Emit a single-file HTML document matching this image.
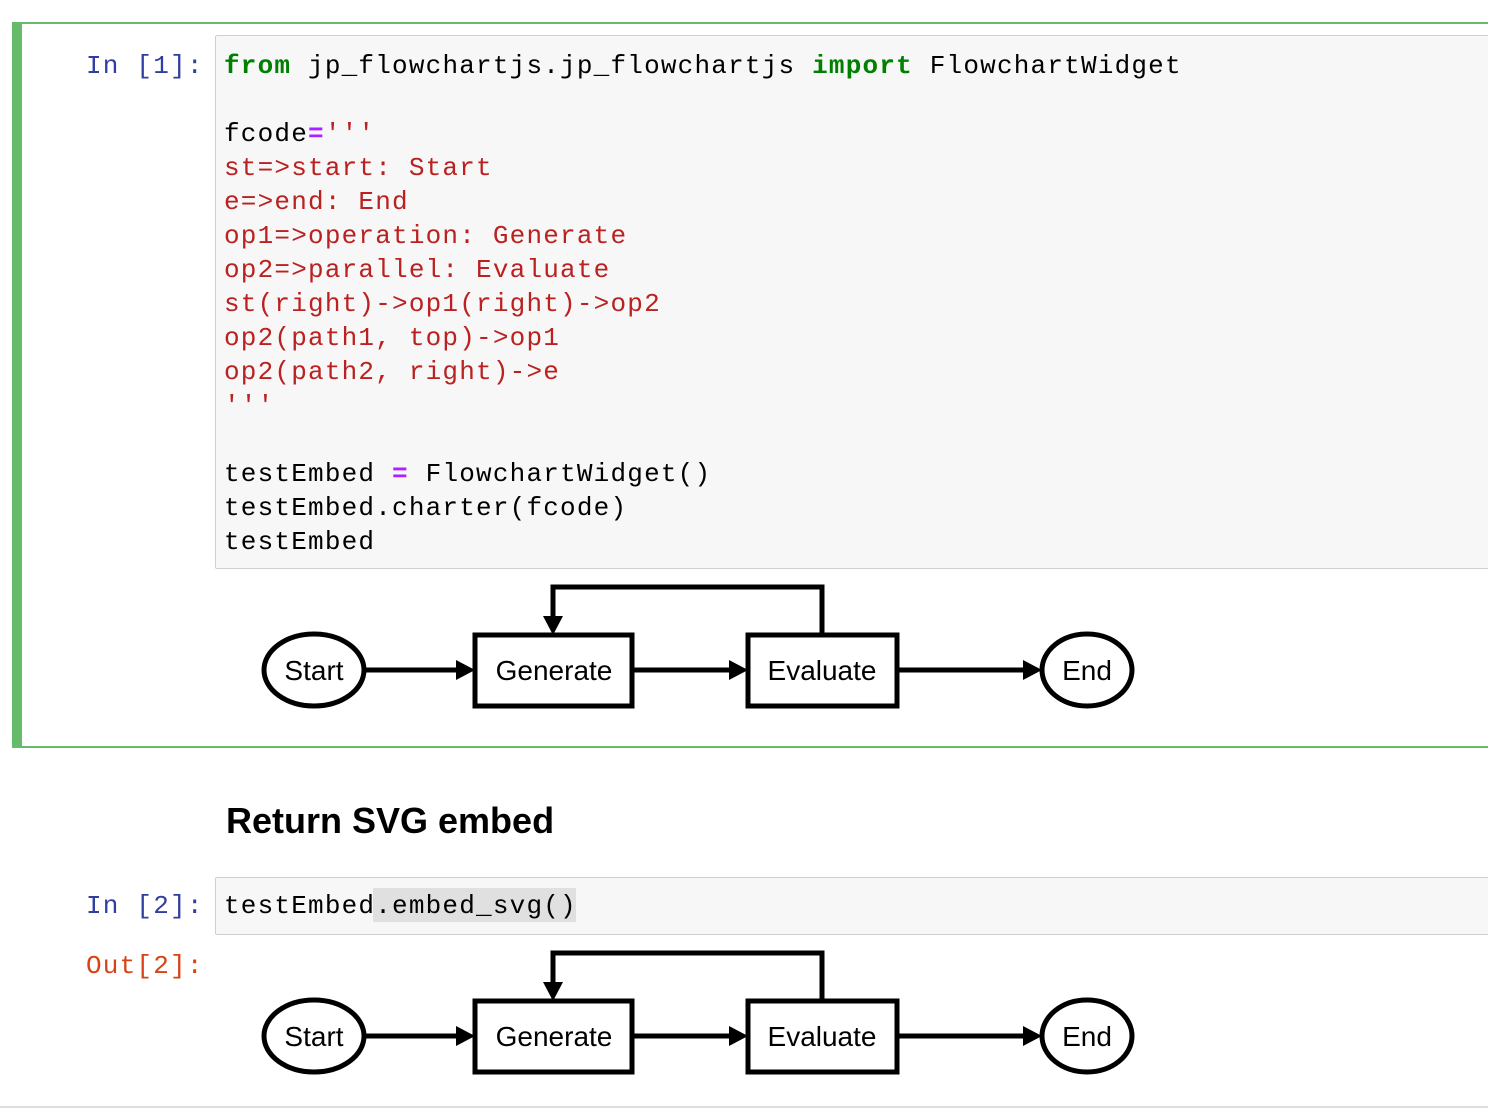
<!DOCTYPE html>
<html><head><meta charset="utf-8"><style>
html,body{margin:0;padding:0;width:1488px;height:1112px;background:#fff;overflow:hidden;position:relative}
.abs{position:absolute}
.mono{font-family:"Liberation Mono",monospace;font-size:26px;letter-spacing:1.2px;line-height:34px;white-space:pre}
.pr{color:#303f9f}
.out{color:#d84315}
.k{color:#008000;font-weight:bold}
.s{color:#ba2121}
.o{color:#aa22ff;font-weight:bold}
</style></head><body>
<div class="abs" style="left:12px;top:22px;width:1476px;height:722px;border-top:2px solid #66bb6a;border-bottom:2px solid #66bb6a;"></div>
<div class="abs" style="left:12px;top:22px;width:10px;height:726px;background:#66bb6a;"></div>
<div class="abs" style="left:215px;top:35px;width:1290px;height:532px;background:#f7f7f7;border:1px solid #cfcfcf;border-radius:2px;"></div>
<div class="abs mono pr" style="left:86px;top:49px;">In [1]:</div>
<div class="abs mono" style="left:224px;top:49px;color:#000"><span class="k">from</span> jp_flowchartjs.jp_flowchartjs <span class="k">import</span> FlowchartWidget

fcode<span class="o">=</span><span class="s">'''
st=&gt;start: Start
e=&gt;end: End
op1=&gt;operation: Generate
op2=&gt;parallel: Evaluate
st(right)-&gt;op1(right)-&gt;op2
op2(path1, top)-&gt;op1
op2(path2, right)-&gt;e
'''</span>

testEmbed <span class="o">=</span> FlowchartWidget()
testEmbed.charter(fcode)
testEmbed</div>

<svg class="abs" style="left:0;top:0" width="1488" height="1112">
<g id="fc" fill="none" stroke="#000" stroke-width="5">
<ellipse cx="314" cy="670" rx="50" ry="36"/>
<rect x="475" y="635" width="157" height="71"/>
<rect x="748" y="635" width="149" height="71"/>
<ellipse cx="1087" cy="670" rx="45" ry="36"/>
<path d="M365 670H460M634 670H733M899 670H1026M822 633V587H553V620" stroke-width="5"/>
<g fill="#000" stroke="none">
<polygon points="475,670 456,660 456,680"/>
<polygon points="748,670 729,660 729,680"/>
<polygon points="1042,670 1023,660 1023,680"/>
<polygon points="553,635 543,616 563,616"/>
</g>
<g fill="#000" stroke="none" font-family="Liberation Sans,Arial,sans-serif" font-size="28" text-anchor="middle">
<text x="314" y="680">Start</text>
<text x="554" y="680">Generate</text>
<text x="822" y="680">Evaluate</text>
<text x="1087" y="680">End</text>
</g>
</g>
<use href="#fc" transform="translate(0,366)"/>
<line x1="0" y1="1107" x2="1488" y2="1107" stroke="#ddd" stroke-width="2"/>
</svg>

<div class="abs" style="left:226px;top:800px;font-family:'Liberation Sans',Arial,sans-serif;font-weight:bold;font-size:36px;color:#000">Return SVG embed</div>
<div class="abs" style="left:215px;top:877px;width:1290px;height:56px;background:#f7f7f7;border:1px solid #cfcfcf;border-radius:2px;"></div>
<div class="abs" style="left:373px;top:888px;width:203px;height:34px;background:#e0e0e0;"></div>
<div class="abs mono pr" style="left:86px;top:889px;">In [2]:</div>
<div class="abs mono" style="left:224px;top:889px;color:#000">testEmbed.embed_svg()</div>
<div class="abs mono out" style="left:86px;top:949px;">Out[2]:</div>
</body></html>
